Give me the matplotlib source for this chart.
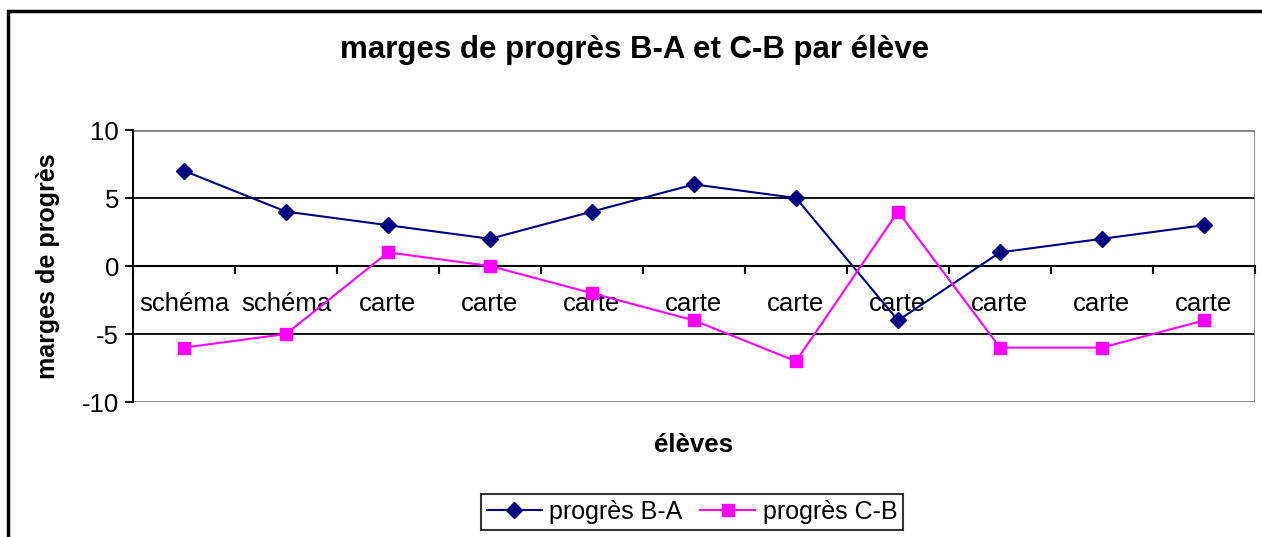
import numpy as np
import matplotlib
matplotlib.use("Agg")
import matplotlib.pyplot as plt
from matplotlib.patches import Rectangle

plt.rcParams['font.family'] = ['Liberation Sans', 'DejaVu Sans']

# data
categories = ['schéma', 'schéma', 'carte', 'carte', 'carte', 'carte',
              'carte', 'carte', 'carte', 'carte', 'carte']
progres_ba = [7, 4, 3, 2, 4, 6, 5, -4, 1, 2, 3]
progres_cb = [-6, -5, 1, 0, -2, -4, -7, 4, -6, -6, -4]
yticks = [-10, -5, 0, 5, 10]

fig = plt.figure(figsize=(12.62, 5.37), dpi=100)
ax = fig.add_axes([133 / 1262, 135 / 537, 1122 / 1262, 272 / 537])

x = np.arange(len(categories))

# gridlines (black) and plot area border (grey)
for v in [5, -5]:
    ax.axhline(v, color='black', linewidth=1.3, zorder=1)
ax.axhline(10, color='#808080', linewidth=2, zorder=1)
ax.axhline(-10, color='#808080', linewidth=2, zorder=1)
ax.axvline(len(categories) - 0.5, color='#808080', linewidth=2, zorder=1)

ax.plot(x, progres_ba, color='#000080', marker='D', markersize=8,
        linewidth=1.5, label='progrès B-A', zorder=3)
ax.plot(x, progres_cb, color='#FF00FF', marker='s', markersize=8,
        linewidth=1.5, label='progrès C-B', zorder=3)

ax.set_xlim(-0.5, len(categories) - 0.5)
ax.set_ylim(-10, 10)

for s in ['top', 'right']:
    ax.spines[s].set_visible(False)
ax.spines['bottom'].set_position(('data', 0))
ax.spines['bottom'].set_linewidth(1.5)
ax.spines['left'].set_linewidth(1.5)

ax.set_xticks(x)
ax.set_xticklabels(categories, fontsize=18.5)
ax.set_xticks(np.arange(-0.5, len(categories)), minor=True)
ax.tick_params(axis='x', which='major', length=0, pad=19)
ax.tick_params(axis='x', which='minor', length=6, width=1.5, direction='out')

ax.set_yticks(yticks)
ax.set_yticklabels([str(v) for v in yticks], fontsize=18.5)
ax.tick_params(axis='y', length=6, width=1.5, pad=4)

ax.set_ylabel('marges de progrès', fontsize=18, fontweight='bold', labelpad=16)
fig.text(693 / 1262, 1 - 445 / 537, 'élèves', fontsize=18.5, fontweight='bold',
         ha='center', va='center')
fig.text(635 / 1262, 1 - 50 / 537, 'marges de progrès B-A et C-B par élève',
         fontsize=22.5, fontweight='bold', ha='center', va='center')

leg = fig.legend(loc='center', bbox_to_anchor=(692 / 1262, 1 - 512 / 537),
                 ncol=2, fontsize=18, frameon=True, fancybox=False,
                 handlelength=2.2, columnspacing=0.7, handletextpad=0.3,
                 borderpad=0.25, edgecolor='black')
leg.get_frame().set_linewidth(1.5)

# outer chart border (cropped at right and bottom)
fig.patches.append(Rectangle((8 / 1262, -0.1), 1.2, 1 - 11 / 537 + 0.1,
                             transform=fig.transFigure, fill=False,
                             edgecolor='black', linewidth=2.5))

fig.savefig('out.png', dpi=100)
